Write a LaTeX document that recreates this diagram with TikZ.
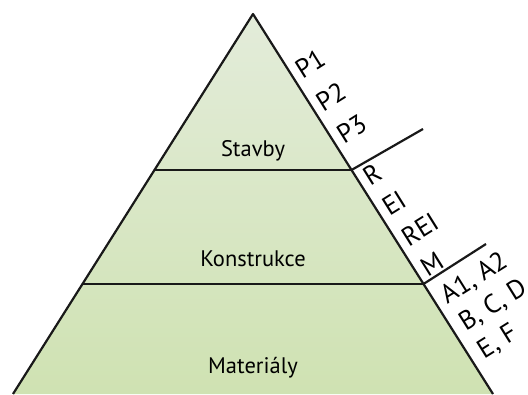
\documentclass[tikz,border=0pt]{standalone}
\usepackage{fontspec}
\setmainfont{PT Sans}
\usetikzlibrary{calc}
\definecolor{pyrtop}{HTML}{E3ECDA}
\definecolor{pyrbot}{HTML}{CFE2B2}

\begin{document}
\begin{tikzpicture}[x=1pt,y=1pt]
\tikzstyle{edge} = [line width=2.2pt, line join=round, color=black!90]
\tikzstyle{level} = [font=\fontsize{22.5}{27}\selectfont, anchor=base]
\tikzstyle{lbl} = [font=\fontsize{26.5}{32}\selectfont, rotate=32, anchor=west, inner ysep=0pt, inner xsep=7pt]

\useasboundingbox (0,0) rectangle (528,394);

%Corners of the pyramid
\coordinate (apex) at (253,380);
\coordinate (bl) at (13,0);
\coordinate (br) at (493,0);

%Body of the pyramid with its two sides
\shade[top color=pyrtop, bottom color=pyrbot] (bl) -- (apex) -- (br) -- cycle;
\draw[edge] (bl) -- (apex) -- (br);

%Two floors dividing the pyramid
\coordinate (f1l) at ($(apex)!0.4105!(bl)$);
\coordinate (f1r) at ($(apex)!0.4105!(br)$);
\coordinate (f2l) at ($(apex)!0.7105!(bl)$);
\coordinate (f2r) at ($(apex)!0.7105!(br)$);
\draw[edge] (f1l) -- (f1r);
\draw[edge] (f2l) -- (f2r);

%Short separators on the right side
\coordinate (sep1) at (423,265);
\coordinate (sep2) at (486,150);
\draw[edge] (f1r) -- (sep1);
\draw[edge] (f2r) -- (sep2);

%Names of the floors
\node[level] (stavby) at (253,237) {Stavby};
\node[level] (konstrukce) at (253,127) {Konstrukce};
\node[level] (materialy) at (253,20) {Materiály};

%Labels next to the top floor
\node[lbl] (p1) at ($(apex)!72pt!(br)$) {P1};
\node[lbl] (p2) at ($(apex)!111pt!(br)$) {P2};
\node[lbl] (p3) at ($(apex)!150pt!(br)$) {P3};

%Labels next to the middle floor
\node[lbl] (r) at ($(apex)!199pt!(br)$) {R};
\node[lbl] (ei) at ($(apex)!235pt!(br)$) {EI};
\node[lbl] (rei) at ($(apex)!271pt!(br)$) {REI};
\node[lbl] (m) at ($(apex)!307pt!(br)$) {M};

%Labels next to the bottom floor
\node[lbl, inner xsep=9pt] (a) at ($(apex)!342pt!(br)$) {A1, A2};
\node[lbl, inner xsep=10pt] (bcd) at ($(apex)!375pt!(br)$) {B, C, D};
\node[lbl, inner xsep=11pt] (ef) at ($(apex)!408pt!(br)$) {E, F};

\end{tikzpicture}
\end{document}
